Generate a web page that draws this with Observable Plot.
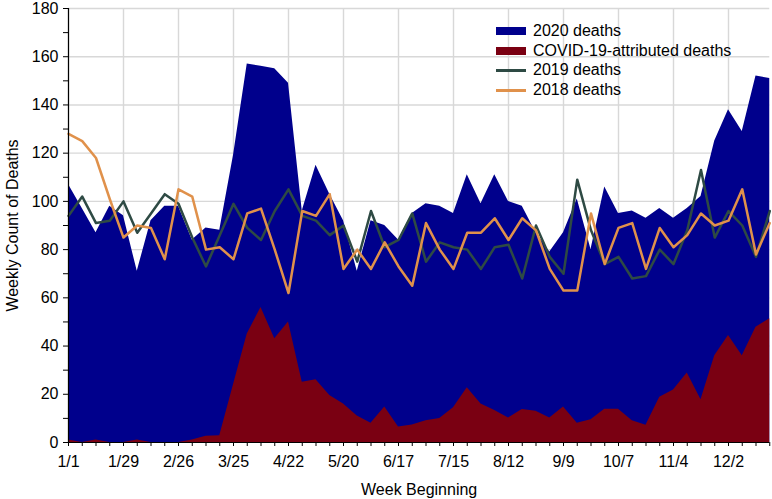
<!DOCTYPE html>
<html>
<head>
<meta charset="utf-8">
<script src="https://cdn.jsdelivr.net/npm/d3@7"></script>
<script src="https://cdn.jsdelivr.net/npm/@observablehq/plot@0.6"></script>
<style>
  html, body { margin: 0; padding: 0; background: #fff; }
  #wrap { position: relative; width: 772px; height: 499px; font-family: "Liberation Sans", Arial, Helvetica, sans-serif; }
  #legend { position: absolute; left: 496px; top: 21px; font-size: 16px; color: #000; }
  .row { display: flex; align-items: center; height: 19.8px; }
  .sw { width: 30px; margin-right: 7px; }
</style>
</head>
<body>
<div id="wrap"></div>
<script>
// Tick labels (every 4th week)
const tickLabels = ["1/1","1/29","2/26","3/25","4/22","5/20","6/17","7/15","8/12","9/9","10/7","11/4","12/2"];

// Weekly values (weeks starting 1/1, 52 weeks)
const deaths2020 = [107, 97, 87, 98, 94, 71, 92, 98, 98, 84, 89, 88, 119, 157, 156, 155, 149, 96, 115, 103, 92, 71, 92, 90, 84, 95, 99, 98, 95, 111, 99, 111, 100, 98, 87, 79, 87, 101, 80, 106, 95, 96, 93, 97, 93, 97, 102, 125, 138, 129, 152, 151];
const covidDeaths = [1, 0, 1, 0, 0, 1, 0, 0, 0, 1, 2.6, 2.8, 24, 45, 56, 43, 50, 25, 26, 19.5, 16, 11, 8, 14.7, 6.4, 7.3, 9, 10, 14.4, 22.7, 16, 13.3, 10.2, 13.7, 13, 10.2, 14.7, 8, 9.4, 13.8, 13.8, 9, 7.2, 18.8, 21.8, 28.8, 17.7, 36, 44.4, 36, 47.8, 51.3];
const deaths2019 = [94, 102, 91, 92, 100, 87, 95, 103, 99, 85, 73, 86, 99, 89, 84, 96, 105, 94, 92, 86, 90, 75, 96, 81, 84, 95, 75, 83, 81, 80, 72, 81, 82, 68, 90, 77, 70, 109, 88, 74, 77, 68, 69, 80, 74, 88, 113, 85, 96, 90, 77, 96];
const deaths2018 = [128, 125, 118, 101, 85, 90, 89, 76, 105, 102, 80, 81, 76, 95, 97, 80, 62, 96, 94, 103, 72, 80, 72, 83, 73, 65, 91, 80, 72, 87, 87, 93, 84, 93, 88, 72, 63, 63, 95, 74, 89, 91, 72, 89, 81, 86, 95, 90, 92, 105, 78, 91];

const colors = { d2020: "#00008c", covid: "#7a0012", d2019: "#2e4a44", d2018: "#e0914b" };

const data = deaths2020.map((v, i) => ({ week: i, d2020: v, covid: covidDeaths[i], d2019: deaths2019[i], d2018: deaths2018[i] }));
const tickIdx = tickLabels.map((_, i) => i * 4);
const allWeeks = deaths2020.map((_, i) => i);

const chart = Plot.plot({
  width: 772,
  height: 499,
  marginLeft: 68,
  marginRight: 2.75,
  marginTop: 8,
  marginBottom: 57,
  style: { fontFamily: "'Liberation Sans', Arial, Helvetica, sans-serif", fontSize: "16px", background: "#fff", color: "#000", overflow: "visible" },
  x: { type: "linear", domain: [0, allWeeks.length - 1] },
  y: { domain: [0, 180] },
  marks: [
    Plot.gridY(d3.range(20, 181, 20), { stroke: "#d8d8d8", strokeOpacity: 1, strokeWidth: 1.4 }),
    Plot.gridX(tickIdx, { stroke: "#d8d8d8", strokeOpacity: 1, strokeWidth: 1.4 }),
    Plot.areaY(data, { x: "week", y: "d2020", fill: colors.d2020 }),
    Plot.areaY(data, { x: "week", y: "covid", fill: colors.covid }),
    Plot.lineY(data, { x: "week", y: "d2019", stroke: colors.d2019, strokeWidth: 2.5 }),
    Plot.lineY(data, { x: "week", y: "d2018", stroke: colors.d2018, strokeWidth: 2.5 }),
    Plot.axisY(d3.range(0, 181, 20), { tickSize: 5, tickPadding: 5, label: null, fontSize: 16 }),
    Plot.axisY(d3.range(10, 181, 20), { tickSize: 5, tickFormat: () => "", label: null }),
    Plot.axisX(tickIdx, { tickSize: 4, tickPadding: 9, tickFormat: d => tickLabels[tickIdx.indexOf(d)], label: null, fontSize: 16 }),
    Plot.axisX(allWeeks, { tickSize: 4, tickFormat: () => "", label: null }),
    Plot.ruleX([0], { stroke: "#000", strokeWidth: 1.2 }),
    Plot.ruleY([0], { stroke: "#000", strokeWidth: 1.2 }),
    Plot.text(["Weekly Count of Deaths"], { text: d => d, frameAnchor: "left", dx: -56, rotate: -90, textAnchor: "middle", lineAnchor: "middle", fontSize: 16, fill: "#000" }),
    Plot.text(["Week Beginning"], { text: d => d, frameAnchor: "bottom", dy: 47, textAnchor: "middle", lineAnchor: "middle", fontSize: 16, fill: "#000" })
  ]
});

const wrap = document.getElementById("wrap");
wrap.appendChild(chart);

const legendItems = [
  { label: "2020 deaths", color: colors.d2020, kind: "area" },
  { label: "COVID-19-attributed deaths", color: colors.covid, kind: "area" },
  { label: "2019 deaths", color: colors.d2019, kind: "line" },
  { label: "2018 deaths", color: colors.d2018, kind: "line" }
];
const legend = document.createElement("div");
legend.id = "legend";
for (const it of legendItems) {
  const row = document.createElement("div");
  row.className = "row";
  const sw = document.createElement("div");
  sw.className = "sw";
  sw.style.background = it.color;
  sw.style.height = it.kind === "area" ? "8px" : "2.5px";
  const t = document.createElement("span");
  t.textContent = it.label;
  row.appendChild(sw);
  row.appendChild(t);
  legend.appendChild(row);
}
wrap.appendChild(legend);
</script>
</body>
</html>
